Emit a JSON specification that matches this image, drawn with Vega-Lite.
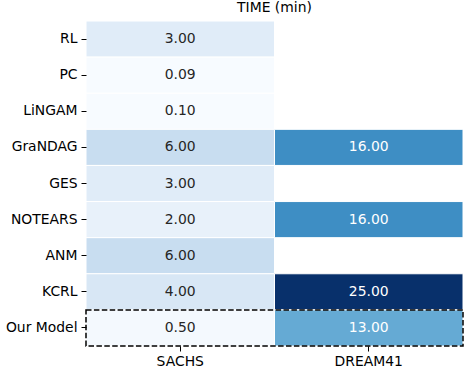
{
  "$schema": "https://vega.github.io/schema/vega-lite/v6.json",
  "autosize": {"type": "none"},
  "padding": {"left": 86, "top": 21, "right": 6, "bottom": 24},
  "width": 377,
  "height": 325,
  "background": "white",
  "title": {"text": "TIME (min)", "fontSize": 13.9, "font": "DejaVu Sans", "fontWeight": "normal", "color": "#000000", "offset": 6, "anchor": "middle"},
  "config": {"view": {"stroke": null}, "font": "DejaVu Sans"},
  "data": {"values": [
    {"model": "RL", "dataset": "SACHS", "value": 3.00},
    {"model": "PC", "dataset": "SACHS", "value": 0.09},
    {"model": "LiNGAM", "dataset": "SACHS", "value": 0.10},
    {"model": "GraNDAG", "dataset": "SACHS", "value": 6.00},
    {"model": "GraNDAG", "dataset": "DREAM41", "value": 16.00},
    {"model": "GES", "dataset": "SACHS", "value": 3.00},
    {"model": "NOTEARS", "dataset": "SACHS", "value": 2.00},
    {"model": "NOTEARS", "dataset": "DREAM41", "value": 16.00},
    {"model": "ANM", "dataset": "SACHS", "value": 6.00},
    {"model": "KCRL", "dataset": "SACHS", "value": 4.00},
    {"model": "KCRL", "dataset": "DREAM41", "value": 25.00},
    {"model": "Our Model", "dataset": "SACHS", "value": 0.50},
    {"model": "Our Model", "dataset": "DREAM41", "value": 13.00}
  ]},
  "encoding": {
    "y": {"field": "model", "type": "nominal",
      "scale": {"domain": ["RL", "PC", "LiNGAM", "GraNDAG", "GES", "NOTEARS", "ANM", "KCRL", "Our Model"], "paddingInner": 0, "paddingOuter": 0},
      "axis": {"title": null, "domain": false, "ticks": true, "tickSize": 5, "tickColor": "#000000", "tickWidth": 1, "labelFontSize": 13.9, "labelColor": "#000000", "labelPadding": 4, "labelFont": "DejaVu Sans"}},
    "x": {"field": "dataset", "type": "nominal",
      "scale": {"domain": ["SACHS", "DREAM41"], "paddingInner": 0, "paddingOuter": 0},
      "axis": {"title": null, "orient": "bottom", "labelAngle": 0, "domain": false, "ticks": true, "tickSize": 5, "tickColor": "#000000", "tickWidth": 1, "labelFontSize": 13.9, "labelColor": "#000000", "labelPadding": 3, "labelFont": "DejaVu Sans"}}
  },
  "layer": [
    {
      "mark": {"type": "rect", "stroke": "white", "strokeWidth": 1},
      "encoding": {
        "color": {"field": "value", "type": "quantitative", "legend": null,
          "scale": {"domain": [0.09, 3.20375, 6.3175, 9.43125, 12.545, 15.65875, 18.7725, 21.88625, 25],
            "range": ["#f7fbff", "#deebf7", "#c6dbef", "#9ecae1", "#6baed6", "#4292c6", "#2171b5", "#08519c", "#08306b"]}}
      }
    },
    {
      "mark": {"type": "text", "fontSize": 13.9, "font": "DejaVu Sans"},
      "encoding": {
        "text": {"field": "value", "type": "quantitative", "format": ".2f"},
        "color": {"condition": {"test": "datum.value > 12", "value": "white"}, "value": "#262626"}
      }
    },
    {
      "transform": [{"filter": "datum.model === 'Our Model' && datum.dataset === 'SACHS'"}],
      "mark": {"type": "rect", "fill": null, "stroke": "black", "strokeWidth": 1.5, "strokeDash": [5.5, 2.4]},
      "encoding": {
        "x": {"value": 0},
        "x2": {"value": 377}
      }
    }
  ]
}
